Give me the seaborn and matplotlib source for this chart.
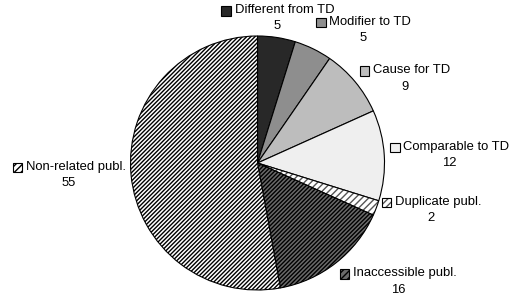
import numpy as np
import matplotlib
matplotlib.use("Agg")
import matplotlib.pyplot as plt
import seaborn as sns
from matplotlib.patches import Rectangle
from matplotlib.offsetbox import DrawingArea, TextArea, HPacker, VPacker, AnnotationBbox

sns.set_theme(style="white")
plt.rcParams['font.family'] = ['Liberation Sans', 'DejaVu Sans']
plt.rcParams['hatch.linewidth'] = 1.0

categories = ["Different from TD", "Modifier to TD", "Cause for TD", "Comparable to TD",
              "Duplicate publ.", "Inaccessible publ.", "Non-related publ."]
values = [5, 5, 9, 12, 2, 16, 55]

facecolors = ["#282828", "#8e8e8e", "#bdbdbd", "#efefef", "#ffffff", "#6a6a6a", "#ffffff"]
hatches = [None, None, None, None, "/////", "////////", "////////"]
hatchcolors = ["black", "black", "black", "black", "#555555", "black", "black"]

W, H = 514, 299
fig = plt.figure(figsize=(W / 100, H / 100), dpi=100)
cx, cy, r = 257.5, 163, 127
ax = fig.add_axes([(cx - r) / W, (H - cy - r) / H, 2 * r / W, 2 * r / H])

wedges, _ = ax.pie(values, startangle=90, counterclock=False,
                   wedgeprops=dict(edgecolor="black", linewidth=0.8))
for w, fc, h, hc in zip(wedges, facecolors, hatches, hatchcolors):
    w.set_facecolor(fc)
    w.set_clip_on(False)
    if h:
        w.set_hatch(h)
        w._hatch_color = matplotlib.colors.to_rgba(hc)
ax.set_xlim(-1, 1)
ax.set_ylim(-1, 1)
ax.set_aspect("equal")
ax.axis("off")

fs = 9.4
for w, cat, val, fc, h, hc in zip(wedges, categories, values, facecolors, hatches, hatchcolors):
    ang = np.deg2rad((w.theta1 + w.theta2) / 2)
    c, s = np.cos(ang), np.sin(ang)
    px, py = 1.04 * c, 1.04 * s
    if abs(c) < 0.2:
        bx = 0.5
    elif c > 0:
        bx = 0.0
    else:
        bx = 1.0
    if s > 0.85:
        by = 0.0
    elif s < -0.7:
        by = 1.0
    else:
        by = 0.5
    da = DrawingArea(9, 9, 0, 0)
    rect = Rectangle((0.5, 0.5), 7, 7, facecolor=fc, edgecolor="black", linewidth=0.8)
    if h:
        rect.set_hatch("/////")
        rect._hatch_color = matplotlib.colors.to_rgba(hc)
    da.add_artist(rect)
    t1 = TextArea(cat, textprops=dict(fontsize=fs, color="black"))
    row = HPacker(children=[da, t1], align="center", pad=0, sep=1)
    t2 = TextArea(str(val), textprops=dict(fontsize=fs, color="black"))
    box = VPacker(children=[row, t2], align="center", pad=0, sep=3)
    ab = AnnotationBbox(box, (px, py), xycoords="data", box_alignment=(bx, by),
                        frameon=False, pad=0, annotation_clip=False)
    ax.add_artist(ab)

fig.savefig("out.png", dpi=100)
